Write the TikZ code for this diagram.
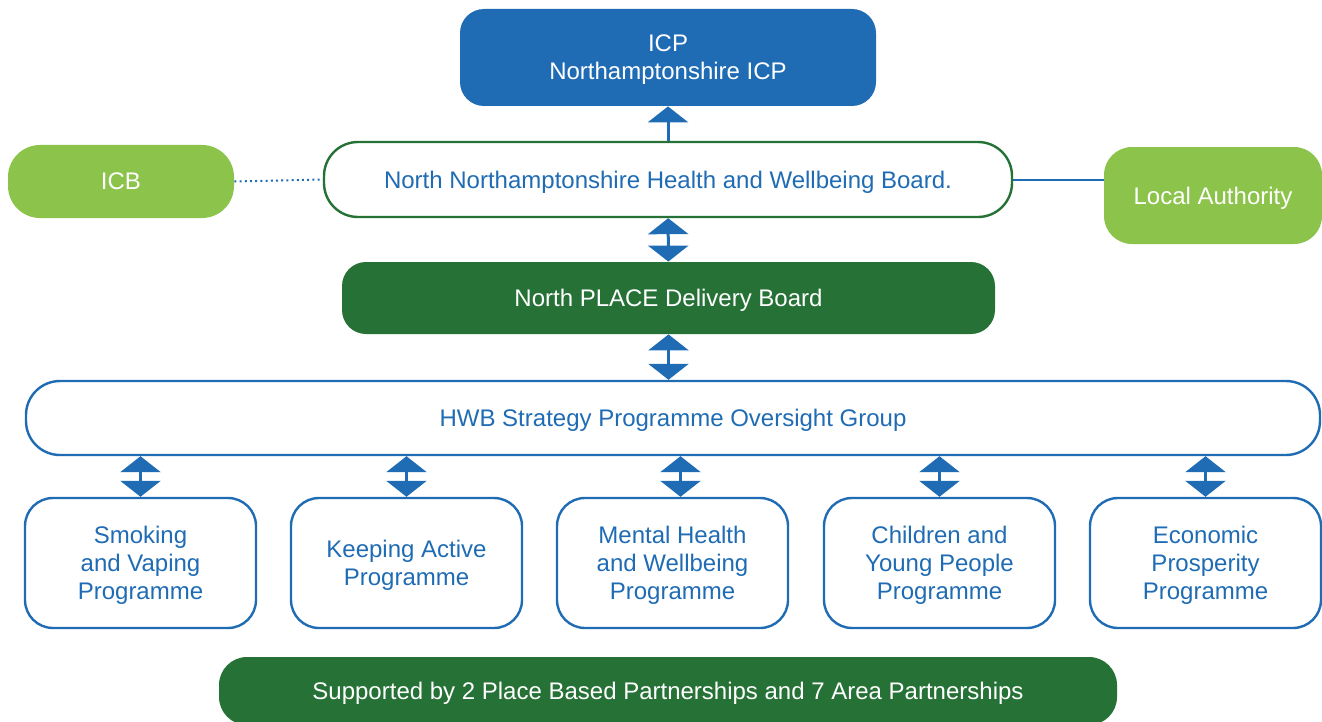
\documentclass[tikz,border=0pt]{standalone}
\usepackage{fontspec}
\setmainfont{Liberation Sans}
\usepackage{tikz}
\usetikzlibrary{arrows.meta}

\definecolor{hwblue}{HTML}{1F6CB4}
\definecolor{darkgrn}{HTML}{267236}
\definecolor{lightgrn}{HTML}{8CC34A}

\begin{document}
\begin{tikzpicture}[x=0.5pt, y=-0.5pt,
    every node/.style={font=\fontsize{12}{14}\selectfont, align=center, inner sep=0pt, text depth=0pt},
    bluebox/.style={fill=hwblue, text=white, rounded corners=12pt},
    greenbox/.style={fill=darkgrn, text=white, rounded corners=12pt},
    lgbox/.style={fill=lightgrn, text=white, rounded corners=16pt},
    outline/.style={draw=hwblue, line width=1.2pt, fill=white, text=hwblue, rounded corners=15pt},
    prog/.style={outline, minimum width=115.5pt, minimum height=65pt, rounded corners=14pt},
    link/.style={hwblue, line width=1.5pt, {Triangle[width=20pt,length=8pt]}-{Triangle[width=20pt,length=8pt]}},
    uplink/.style={hwblue, line width=1.5pt, -{Triangle[width=20pt,length=8pt]}}
  ]
  \useasboundingbox (0,0) rectangle (1322,722);

  \node[bluebox, minimum width=208pt, minimum height=48.5pt] (icp) at (668,57.5) {ICP\\Northamptonshire ICP};
  \node[outline, draw=darkgrn, minimum width=344pt, minimum height=37.5pt, rounded corners=17pt] (nnhwb) at (668,179.5)
    {North Northamptonshire Health and Wellbeing Board.};
  \node[lgbox, minimum width=113pt, minimum height=36.5pt] (icb) at (121,181.5) {ICB};
  \node[lgbox, minimum width=109pt, minimum height=48.5pt, rounded corners=14pt] (la) at (1213,195.5) {Local Authority};
  \node[greenbox, minimum width=326.5pt, minimum height=36pt] (place) at (668.5,298) {North PLACE Delivery Board};
  \node[outline, minimum width=647pt, minimum height=37pt, rounded corners=17pt] (hwbsog) at (673,418)
    {HWB Strategy Programme Oversight Group};

  \node[prog] (p1) at (140.5,563) {Smoking\\and Vaping\\Programme};
  \node[prog] (p2) at (406.5,563) {Keeping Active\\Programme};
  \node[prog] (p3) at (672.5,563) {Mental Health\\and Wellbeing\\Programme};
  \node[prog] (p4) at (939.5,563) {Children and\\Young People\\Programme};
  \node[prog] (p5) at (1205.5,563) {Economic\\Prosperity\\Programme};

  \node[greenbox, minimum width=449pt, minimum height=34pt, rounded corners=14pt] (supp) at (668,691)
    {Supported by 2 Place Based Partnerships and 7 Area Partnerships};

  % links between boards
  \draw[uplink] (nnhwb) -- (icp);
  \draw[link] (nnhwb) -- (place);
  \draw[link] (place.south) -- (place.south |- hwbsog.north);
  \foreach \p/\dx in {p1/0,p2/0,p3/8,p4/0,p5/0}
    \draw[link] ([xshift=\dx*0.5pt]hwbsog.south -| \p.north) -- ([xshift=\dx*0.5pt]\p.north);

  \draw[hwblue, line width=1pt, dash pattern=on 1pt off 1.6pt] (icb.east) -- (nnhwb.west);
  \draw[hwblue, line width=1pt] (nnhwb.east) -- (nnhwb.east -| la.west);
\end{tikzpicture}
\end{document}
